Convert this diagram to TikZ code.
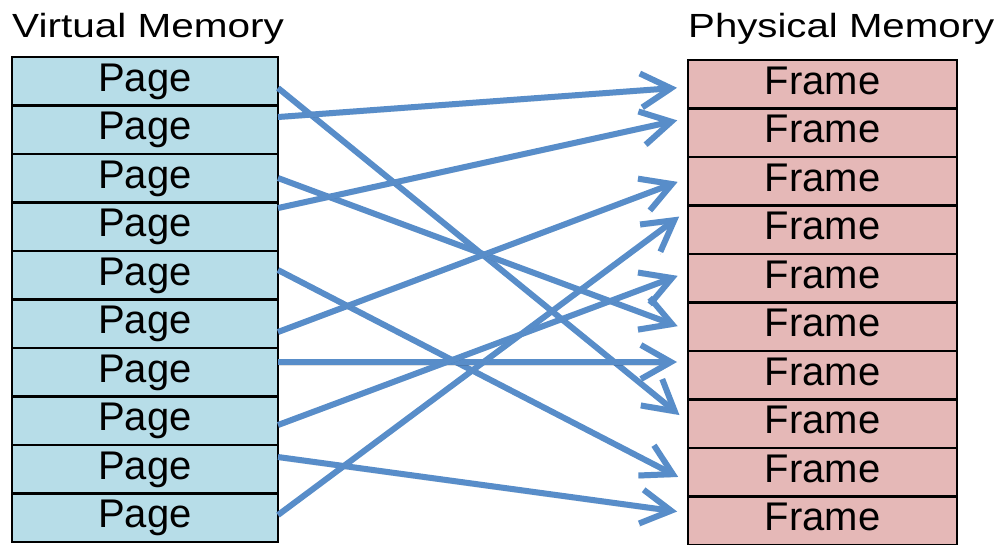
\documentclass[tikz,border=0pt]{standalone}
\usepackage{fontspec}
\setmainfont{Liberation Sans}
\usetikzlibrary{positioning,arrows.meta}
\definecolor{pagefill}{RGB}{183,221,232}
\definecolor{framefill}{RGB}{229,184,183}
\definecolor{linkblue}{RGB}{88,141,201}
\tikzset{cell/.style={draw=black,line width=2.2pt,outer sep=0pt,inner sep=0pt,minimum height=48.5pt,
		text height=28.8pt,text depth=8.4pt,font=\fontsize{40}{40}\selectfont}}
\tikzset{pagecell/.style={cell,fill=pagefill,minimum width=266pt}}
\tikzset{framecell/.style={cell,fill=framefill,minimum width=269pt}}
\tikzset{heading/.style={anchor=base west,inner sep=0pt,font=\fontsize{33.5}{33.5}\selectfont}}
\tikzset{link/.style={linkblue,line width=6pt,shorten >=11pt,-{Straight Barb[length=30pt,width=34pt]},
		preaction={draw=black,opacity=.12,transform canvas={yshift=-3pt}}}}

\begin{document}
\begin{tikzpicture}
	\useasboundingbox (0,0) rectangle (1002pt,-544pt);
	
	% virtual pages, left column
	\node[pagecell] (p1) at (145pt,-81.25pt) {Page};
	\foreach \i [count=\j from 2] in {1,...,9}
		\node[pagecell,below=0pt of p\i] (p\j) {Page};
	% physical frames, right column
	\node[framecell] (f1) at (822.5pt,-84.25pt) {Frame};
	\foreach \i [count=\j from 2] in {1,...,9}
		\node[framecell,below=0pt of f\i] (f\j) {Frame};
	
	\node[heading] (vhead) at (12pt,-37pt) {\scalebox{1.21}[1]{Virtual Memory}};
	\node[heading] (phead) at (688pt,-37pt) {\scalebox{1.2}[1]{Physical Memory}};
	
	% page table mapping
	\draw[link] ([yshift=-6.75pt]p1.east) -- ([yshift=1.75pt]f8.west);
	\draw[link] ([yshift=12.75pt]p2.east) -- ([yshift=-2.75pt]f1.west);
	\draw[link] ([yshift=0.25pt]p3.east) -- ([yshift=-3.25pt]f6.west);
	\draw[link] ([yshift=18.75pt]p4.east) -- ([yshift=14.75pt]f2.west);
	\draw[link] ([yshift=5.25pt]p5.east) -- ([yshift=-9.75pt]f9.west);
	\draw[link] ([yshift=-8.25pt]p6.east) -- ([yshift=3.25pt]f3.west);
	\draw[link] ([yshift=10.25pt]p7.east) -- ([yshift=13.25pt]f7.west);
	\draw[link] ([yshift=-4.25pt]p8.east) -- ([yshift=6.25pt]f5.west);
	\draw[link] ([yshift=12.25pt]p9.east) -- ([yshift=7.75pt]f10.west);
	\draw[link] ([yshift=2.75pt]p10.east) -- ([yshift=19.75pt]f4.west);
\end{tikzpicture}
\end{document}
